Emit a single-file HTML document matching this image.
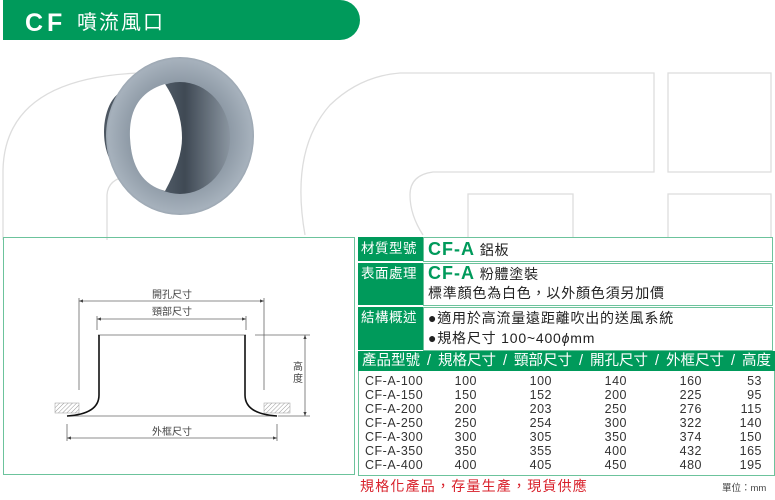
<!DOCTYPE html>
<html><head><meta charset="utf-8"><style>
body{margin:0;width:775px;height:500px;position:relative;background:#fff;overflow:hidden;font-family:"Liberation Sans","Noto Sans CJK TC",sans-serif;}
.abs{position:absolute}
.g{background:#009a5b;color:#fff}
.lab{position:absolute;left:358px;width:65px;background:#009a5b;color:#fff;font-size:13.5px;letter-spacing:0.5px;padding-left:3px;box-sizing:border-box;white-space:nowrap;overflow:hidden}
.cell{position:absolute;left:423px;right:2px;border:1px solid #6cc39c;background:#fff;box-sizing:border-box;font-size:14px;letter-spacing:0.8px;color:#222;padding-left:4px}
.cf{color:#009a5b;font-weight:bold;font-size:18px;letter-spacing:1px}
.row{position:absolute;left:0;width:420px;height:14px;font-size:12.5px;color:#333;line-height:14px;letter-spacing:0.5px}
.row span{position:absolute;text-align:right;width:60px}
</style></head><body>
<svg class="abs" style="left:0;top:0" width="775" height="500">
<g fill="none" stroke="#dddddd" stroke-width="1.3">
<path d="M3 240 V170 Q5 78 140 73 H200"/>
<path d="M107 240 V195 Q108 178 130 176"/>
<path d="M305 235 Q290 150 330 105 Q360 76 400 73 H654 V172 H433 Q410 175 410 195 Q410 215 423 235"/>
<rect x="468" y="194" width="105" height="45"/>
<rect x="668" y="73" width="103" height="99"/>
<rect x="668" y="194" width="103" height="45"/>
</g>
<path d="M3 0 H340 A20 20 0 0 1 340 40 H3 Z" fill="#009a5b"/>
<text x="25" y="31" fill="#fff" font-size="25" font-weight="900" letter-spacing="4" font-family="Liberation Sans,sans-serif">CF</text>
<text x="77" y="29" fill="#fff" font-size="20" letter-spacing="2" font-family="Noto Sans CJK TC,sans-serif">噴流風口</text>
<defs><radialGradient id="rg" cx="0.5" cy="0.5" r="0.55"><stop offset="0.6" stop-color="#8d99a5"/><stop offset="0.88" stop-color="#a6b1bc"/><stop offset="1" stop-color="#7d8893"/></radialGradient>
<linearGradient id="ig" x1="0" x2="1"><stop offset="0" stop-color="#6b7783"/><stop offset="0.55" stop-color="#3f4954"/><stop offset="1" stop-color="#8a95a0"/></linearGradient></defs>
<ellipse cx="128" cy="132" rx="24" ry="42" fill="#4c5661"/>
<ellipse cx="180" cy="136" rx="74" ry="79" fill="url(#rg)"/>
<ellipse cx="180" cy="138" rx="50" ry="56" fill="url(#ig)"/>
<path d="M165 84 Q128 95 130 138 Q132 182 165 191 Q182 160 182 138 Q182 110 165 84Z" fill="#fff"/>
</svg>
<div class="abs" style="left:3px;top:237px;width:352px;height:238px;border:1.5px solid #6cc39c;box-sizing:border-box"></div>
<svg class="abs" style="left:0;top:0" width="360" height="500">
<defs><pattern id="h" width="3" height="3" patternUnits="userSpaceOnUse" patternTransform="rotate(45)"><line x1="0" y1="0" x2="0" y2="3" stroke="#999" stroke-width="1"/></pattern>
<marker id="a" markerWidth="6" markerHeight="6" refX="5" refY="3" orient="auto-start-reverse"><path d="M0 1 L5 3 L0 5Z" fill="#444"/></marker></defs>
<g stroke="#666" stroke-width="0.8" fill="none">
<line x1="79" y1="301" x2="264" y2="301" marker-start="url(#a)" marker-end="url(#a)"/>
<line x1="97" y1="319" x2="246" y2="319" marker-start="url(#a)" marker-end="url(#a)"/>
<line x1="79" y1="298" x2="79" y2="390"/><line x1="264" y1="298" x2="264" y2="390"/>
<line x1="97" y1="316" x2="97" y2="330"/><line x1="246" y1="316" x2="246" y2="330"/>
<line x1="98" y1="335" x2="246" y2="335"/>
<line x1="67" y1="416" x2="277" y2="416"/>
<line x1="67" y1="424" x2="67" y2="441"/><line x1="277" y1="424" x2="277" y2="441"/>
<line x1="67" y1="438" x2="277" y2="438" marker-start="url(#a)" marker-end="url(#a)"/>
<line x1="255" y1="335" x2="310" y2="335"/>
<line x1="278" y1="416" x2="310" y2="416"/>
<line x1="305" y1="335" x2="305" y2="416" marker-start="url(#a)" marker-end="url(#a)"/>
</g>
<rect x="55" y="403" width="24" height="10" fill="url(#h)" stroke="#999" stroke-width="0.5"/>
<rect x="264" y="403" width="26" height="10" fill="url(#h)" stroke="#999" stroke-width="0.5"/>
<path d="M99 335 V395 Q99 414 67 416 M245 335 V395 Q245 414 277 416" stroke="#111" stroke-width="1.6" fill="none"/>
<g font-size="10" fill="#444" font-family="Noto Sans CJK TC,sans-serif" text-anchor="middle">
<text x="172" y="298">開孔尺寸</text><text x="172" y="315">頸部尺寸</text><text x="172" y="435">外框尺寸</text>
<text x="298" y="370">高</text><text x="298" y="382">度</text></g>
</svg>
<div class="lab" style="top:237px;height:24px;line-height:24px">材質型號</div>
<div class="cell" style="top:237px;height:25px;line-height:23px"><span class="cf">CF-A</span> 鋁板</div>
<div class="lab" style="top:263px;height:42px;line-height:22px">表面處理</div>
<div class="cell" style="top:263px;height:43px;line-height:19px"><span class="cf">CF-A</span> 粉體塗裝<br>標準顏色為白色，以外顏色須另加價</div>
<div class="lab" style="top:307px;height:43px;line-height:22px">結構概述</div>
<div class="cell" style="top:307px;height:44px;line-height:20px">●適用於高流量遠距離吹出的送風系統<br>●規格尺寸 100~400<i>ϕ</i>mm</div>
<div class="abs g" style="left:358px;top:351px;width:417px;height:20px;line-height:20px;font-size:14.5px;padding:0 4px;box-sizing:border-box;white-space:nowrap;display:flex;justify-content:space-between"><span>產品型號</span><span>/</span><span>規格尺寸</span><span>/</span><span>頸部尺寸</span><span>/</span><span>開孔尺寸</span><span>/</span><span>外框尺寸</span><span>/</span><span>高度</span></div>
<div class="abs" style="left:358px;top:371px;width:417px;height:105px;border:1.5px solid #6cc39c;border-top:none;box-sizing:border-box"></div>
<div class="abs" style="left:355px;top:374px;width:420px;height:100px">
<div class="row" style="top:0"><span style="left:10px;text-align:left;width:80px">CF-A-100</span><span style="left:62px">100</span><span style="left:137px">100</span><span style="left:212px">140</span><span style="left:287px">160</span><span style="left:347px">53</span></div>
<div class="row" style="top:14px"><span style="left:10px;text-align:left;width:80px">CF-A-150</span><span style="left:62px">150</span><span style="left:137px">152</span><span style="left:212px">200</span><span style="left:287px">225</span><span style="left:347px">95</span></div>
<div class="row" style="top:28px"><span style="left:10px;text-align:left;width:80px">CF-A-200</span><span style="left:62px">200</span><span style="left:137px">203</span><span style="left:212px">250</span><span style="left:287px">276</span><span style="left:347px">115</span></div>
<div class="row" style="top:42px"><span style="left:10px;text-align:left;width:80px">CF-A-250</span><span style="left:62px">250</span><span style="left:137px">254</span><span style="left:212px">300</span><span style="left:287px">322</span><span style="left:347px">140</span></div>
<div class="row" style="top:56px"><span style="left:10px;text-align:left;width:80px">CF-A-300</span><span style="left:62px">300</span><span style="left:137px">305</span><span style="left:212px">350</span><span style="left:287px">374</span><span style="left:347px">150</span></div>
<div class="row" style="top:70px"><span style="left:10px;text-align:left;width:80px">CF-A-350</span><span style="left:62px">350</span><span style="left:137px">355</span><span style="left:212px">400</span><span style="left:287px">432</span><span style="left:347px">165</span></div>
<div class="row" style="top:84px"><span style="left:10px;text-align:left;width:80px">CF-A-400</span><span style="left:62px">400</span><span style="left:137px">405</span><span style="left:212px">450</span><span style="left:287px">480</span><span style="left:347px">195</span></div>
</div>
<div class="abs" style="left:360px;top:476px;font-size:14px;letter-spacing:1.2px;color:#d8202a;white-space:nowrap">規格化產品，存量生產，現貨供應</div>
<div class="abs" style="left:722px;top:480px;font-size:9.5px;color:#444;white-space:nowrap">單位：mm</div>
</body></html>
